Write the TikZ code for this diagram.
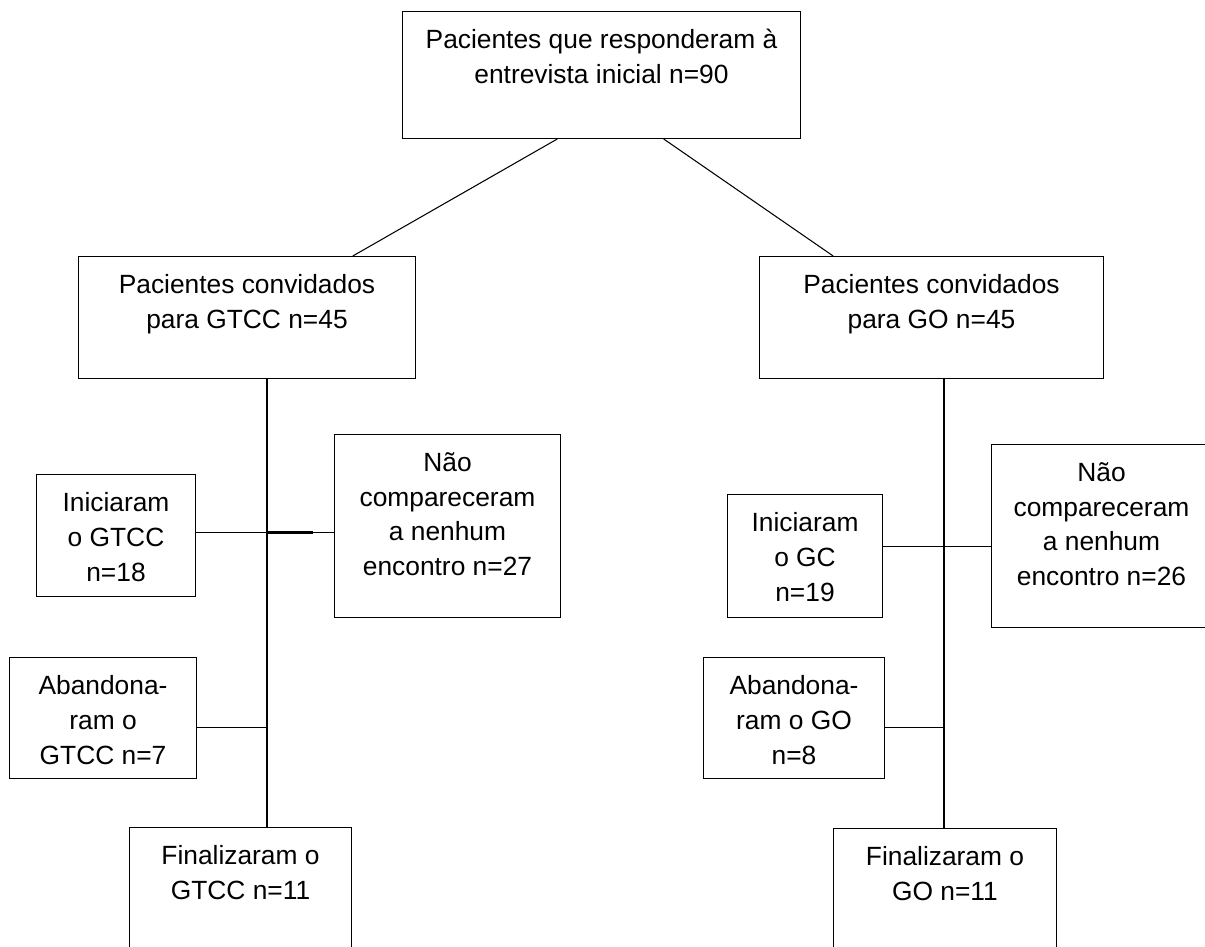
\documentclass[tikz,border=0pt]{standalone}
\usepackage{fontspec}
\setmainfont{Liberation Sans}
\usetikzlibrary{positioning,calc}

\begin{document}
\begin{tikzpicture}[
        x=0.02cm, y=-0.02cm,
        % Define styles for different components
        box/.style={
            draw,
            rectangle,
            anchor=north west,
            inner sep=0pt,
            line width=0.6pt
        },
        txt/.style={
            align=center,
            inner sep=0pt,
            font=\fontsize{15}{19.8}\selectfont,
            execute at begin node=\strut
        },
        link/.style={
            line width=0.6pt
        },
        trunk/.style={
            line width=1.1pt
        }
    ]

    % Page frame
    \clip (0,0) rectangle (1205,947);

    % Place interview box
    \node[box, minimum width=7.96cm, minimum height=2.54cm] (entrev) at (402,11) {};
    \node[txt, below=0.36cm of entrev.north] (entrev-t) {Pacientes que responderam à\\entrevista inicial n=90};

    % Place invited groups
    \node[box, minimum width=6.74cm, minimum height=2.44cm] (gtcc) at (78,256) {};
    \node[txt, below=0.36cm of gtcc.north] (gtcc-t) {Pacientes convidados\\para GTCC n=45};
    \node[box, minimum width=6.88cm, minimum height=2.44cm] (go) at (759,256) {};
    \node[txt, below=0.36cm of go.north] (go-t) {Pacientes convidados\\para GO n=45};

    % Place GTCC branch
    \node[box, minimum width=3.18cm, minimum height=2.44cm] (ini1) at (36,474) {};
    \node[txt, below=0.36cm of ini1.north] (ini1-t) {Iniciaram\\o GTCC\\n=18};
    \node[box, minimum width=4.52cm, minimum height=3.66cm] (nao1) at (334,434) {};
    \node[txt, below=0.36cm of nao1.north] (nao1-t) {Não\\compareceram\\a nenhum\\encontro n=27};
    \node[box, minimum width=3.74cm, minimum height=2.42cm] (ab1) at (9,657) {};
    \node[txt, below=0.36cm of ab1.north] (ab1-t) {Abandona-\\ram o\\GTCC n=7};
    \node[box, minimum width=4.44cm, minimum height=2.8cm] (fin1) at (129,827) {};
    \node[txt, below=0.36cm of fin1.north] (fin1-t) {Finalizaram o\\GTCC n=11};

    % Place GO branch
    \node[box, minimum width=3.10cm, minimum height=2.46cm] (ini2) at (727,494) {};
    \node[txt, below=0.36cm of ini2.north] (ini2-t) {Iniciaram\\o GC\\n=19};
    \node[box, minimum width=4.40cm, minimum height=3.66cm] (nao2) at (991,444) {};
    \node[txt, below=0.36cm of nao2.north] (nao2-t) {Não\\compareceram\\a nenhum\\encontro n=26};
    \node[box, minimum width=3.62cm, minimum height=2.42cm] (ab2) at (703,657) {};
    \node[txt, below=0.36cm of ab2.north] (ab2-t) {Abandona-\\ram o GO\\n=8};
    \node[box, minimum width=4.46cm, minimum height=2.8cm] (fin2) at (833,828) {};
    \node[txt, below=0.36cm of fin2.north] (fin2-t) {Finalizaram o\\GO n=11};

    % Draw connections from the interview
    \draw[link] ($(entrev.south west)!0.389!(entrev.south east)$) -- ($(gtcc.north west)!0.813!(gtcc.north east)$);
    \draw[link] ($(entrev.south west)!0.656!(entrev.south east)$) -- ($(go.north west)!0.215!(go.north east)$);

    % Draw vertical trunks
    \coordinate (tl) at ($(gtcc.south west)!0.558!(gtcc.south east)$);
    \coordinate (tr) at ($(go.south west)!0.535!(go.south east)$);
    \draw[trunk] (tl) -- (tl |- fin1.north);
    \draw[trunk] (tr) -- (tr |- fin2.north);

    % Draw side branches
    \coordinate (j1) at ([yshift=0.06cm]ini1.east);
    \coordinate (j2) at ([yshift=0.19cm]ini2.east);
    \coordinate (j3) at ([yshift=-0.19cm]ab1.east);
    \coordinate (j4) at ([yshift=-0.19cm]ab2.east);
    \draw[link] (j1) -- (j1 -| nao1.west);
    \draw[line width=1.4pt] (j1 -| tl) -- ++(46,0);
    \draw[link] (j2) -- (j2 -| nao2.west);
    \draw[link] (j3) -- (j3 -| tl);
    \draw[link] (j4) -- (j4 -| tr);

\end{tikzpicture}
\end{document}
